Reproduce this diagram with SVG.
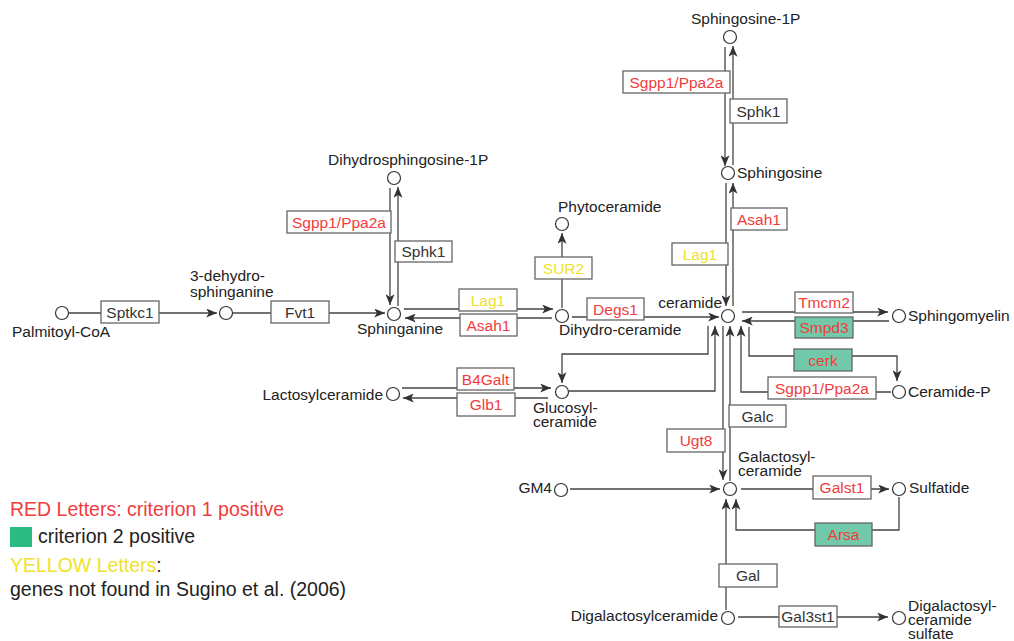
<svg xmlns="http://www.w3.org/2000/svg" width="1014" height="641" viewBox="0 0 1014 641">
<defs>
<marker id="ah" viewBox="0 0 12 10" refX="12" refY="5" markerWidth="11" markerHeight="9" markerUnits="userSpaceOnUse" orient="auto">
<path d="M0,0 L12,5 L0,10 L3,5 z" fill="#333"/>
</marker>
<style>
text{font-family:"Liberation Sans",Arial,sans-serif;font-size:15.5px;fill:#222}
.c{fill:#fff;stroke:#333;stroke-width:1.2}
.ln{fill:none;stroke:#444;stroke-width:1.3}
.ar{marker-end:url(#ah)}
.b{fill:#fff;stroke:#666;stroke-width:1.3}
.g{fill:#72c9aa;stroke:#666;stroke-width:1.3}
.et{text-anchor:middle;fill:#333}
.red{fill:#f03c3c}
.yel{fill:#eee22c}
.lg{font-size:19.5px}
</style>
</defs>
<rect width="1014" height="641" fill="#fff"/>

<g id="connectors">
<line class="ln ar" x1="69" y1="313" x2="217" y2="313"/>
<line class="ln ar" x1="233" y1="313" x2="385" y2="313"/>
<line class="ln ar" x1="398" y1="306" x2="398" y2="187"/>
<line class="ln ar" x1="390" y1="188" x2="390" y2="305"/>
<line class="ln ar" x1="404" y1="309" x2="553" y2="309"/>
<line class="ln ar" x1="552" y1="318" x2="405" y2="318"/>
<line class="ln ar" x1="562" y1="308" x2="562" y2="233"/>
<line class="ln ar" x1="572" y1="317" x2="719" y2="317"/>
<line class="ln ar" x1="725" y1="47" x2="725" y2="166"/>
<line class="ln ar" x1="733" y1="165" x2="733" y2="46"/>
<line class="ln ar" x1="726" y1="183" x2="726" y2="306"/>
<line class="ln ar" x1="733" y1="306" x2="733" y2="183"/>
<line class="ln ar" x1="742" y1="312" x2="888" y2="312"/>
<line class="ln ar" x1="889" y1="321" x2="742" y2="321"/>
<path class="ln ar" d="M749,327 V356 H897 V381"/>
<path class="ln ar" d="M891,392 H741 V326"/>
<path class="ln ar" d="M708,326 V354 H562 V383"/>
<path class="ln ar" d="M569,391 H715 V326"/>
<line class="ln ar" x1="723" y1="326" x2="723" y2="480"/>
<line class="ln ar" x1="730" y1="481" x2="730" y2="326"/>
<line class="ln ar" x1="402" y1="388" x2="551" y2="388"/>
<line class="ln ar" x1="548" y1="398" x2="403" y2="398"/>
<line class="ln ar" x1="570" y1="489" x2="720" y2="489"/>
<line class="ln ar" x1="741" y1="489" x2="889" y2="489"/>
<path class="ln ar" d="M899,497 V530 H736 V499"/>
<line class="ln ar" x1="726" y1="610" x2="726" y2="499"/>
<line class="ln ar" x1="738" y1="617" x2="888" y2="617"/>
</g>

<g id="n-palmitoyl"><circle class="c" cx="62" cy="313" r="6.5"/><text x="12" y="337">Palmitoyl-CoA</text></g>
<g id="n-dehydro"><circle class="c" cx="226" cy="313" r="6.5"/><text x="190" y="281">3-dehydro-</text><text x="190" y="297">sphinganine</text></g>
<g id="n-sphinganine"><circle class="c" cx="394" cy="314" r="6.5"/><text x="357" y="334">Sphinganine</text></g>
<g id="n-dhs1p"><circle class="c" cx="394" cy="178" r="6.5"/><text x="328" y="165">Dihydrosphingosine-1P</text></g>
<g id="n-phyto"><circle class="c" cx="562" cy="224" r="6.5"/><text x="558" y="212">Phytoceramide</text></g>
<g id="n-dhcer"><circle class="c" cx="562" cy="316" r="6.5"/><text x="559" y="335">Dihydro-ceramide</text></g>
<g id="n-ceramide"><circle class="c" cx="728" cy="316" r="6.5"/><text x="722" y="308" text-anchor="end">ceramide</text></g>
<g id="n-sphingosine"><circle class="c" cx="728" cy="173" r="6.5"/><text x="737" y="178">Sphingosine</text></g>
<g id="n-s1p"><circle class="c" cx="730" cy="37" r="6.5"/><text x="691" y="24">Sphingosine-1P</text></g>
<g id="n-sm"><circle class="c" cx="899" cy="316" r="6.5"/><text x="908" y="321">Sphingomyelin</text></g>
<g id="n-cerp"><circle class="c" cx="899" cy="392" r="6.5"/><text x="908" y="397">Ceramide-P</text></g>
<g id="n-lactosyl"><circle class="c" cx="393" cy="394" r="6.5"/><text x="383" y="400" text-anchor="end">Lactosylceramide</text></g>
<g id="n-glucosyl"><circle class="c" cx="562" cy="392" r="6.5"/><text x="533" y="413">Glucosyl-</text><text x="533" y="427">ceramide</text></g>
<g id="n-galactosyl"><circle class="c" cx="730" cy="489" r="6.5"/><text x="738" y="462">Galactosyl-</text><text x="738" y="476">ceramide</text></g>
<g id="n-gm4"><circle class="c" cx="561" cy="490" r="6.5"/><text x="552" y="493" text-anchor="end">GM4</text></g>
<g id="n-sulfatide"><circle class="c" cx="899" cy="489" r="6.5"/><text x="909" y="493">Sulfatide</text></g>
<g id="n-digal"><circle class="c" cx="728" cy="618" r="6.5"/><text x="718" y="621" text-anchor="end">Digalactosylceramide</text></g>
<g id="n-digals"><circle class="c" cx="899" cy="618" r="6.5"/><text x="908" y="611">Digalactosyl-</text><text x="908" y="625">ceramide</text><text x="908" y="639">sulfate</text></g>

<g id="e-sptkc1"><rect class="b" x="101" y="301" width="58" height="22"/><text class="et" x="130" y="317.5">Sptkc1</text></g>
<g id="e-fvt1"><rect class="b" x="271" y="301" width="58" height="22"/><text class="et" x="300" y="317.5">Fvt1</text></g>
<g id="e-sgpp1a"><rect class="b" x="287" y="211" width="104" height="22"/><text class="et red" x="339" y="227.5">Sgpp1/Ppa2a</text></g>
<g id="e-sphk1a"><rect class="b" x="395" y="241" width="57" height="21"/><text class="et" x="423.5" y="257">Sphk1</text></g>
<g id="e-lag1a"><rect class="b" x="459" y="289" width="58" height="22"/><text class="et yel" x="488" y="305.5">Lag1</text></g>
<g id="e-asah1a"><rect class="b" x="460" y="314" width="57" height="22"/><text class="et red" x="488.5" y="330.5">Asah1</text></g>
<g id="e-sur2"><rect class="b" x="535" y="257" width="57" height="22"/><text class="et yel" x="563.5" y="273.5">SUR2</text></g>
<g id="e-degs1"><rect class="b" x="587" y="298" width="57" height="22"/><text class="et red" x="615.5" y="314.5">Degs1</text></g>
<g id="e-sgpp1b"><rect class="b" x="623" y="71" width="107" height="22"/><text class="et red" x="676.5" y="87.5">Sgpp1/Ppa2a</text></g>
<g id="e-sphk1b"><rect class="b" x="730" y="99" width="57" height="24"/><text class="et" x="758.5" y="116.5">Sphk1</text></g>
<g id="e-lag1b"><rect class="b" x="672" y="243" width="56" height="22"/><text class="et yel" x="700" y="259.5">Lag1</text></g>
<g id="e-asah1b"><rect class="b" x="731" y="208" width="56" height="22"/><text class="et red" x="759" y="224.5">Asah1</text></g>
<g id="e-tmcm2"><rect class="b" x="795" y="292" width="58" height="21"/><text class="et red" x="824" y="308">Tmcm2</text></g>
<g id="e-smpd3"><rect class="g" x="795" y="317" width="58" height="21"/><text class="et red" x="824" y="333">Smpd3</text></g>
<g id="e-cerk"><rect class="g" x="794" y="349" width="58" height="22"/><text class="et red" x="823" y="365.5">cerk</text></g>
<g id="e-sgpp1c"><rect class="b" x="768" y="377" width="108" height="22"/><text class="et red" x="822" y="393.5">Sgpp1/Ppa2a</text></g>
<g id="e-galc"><rect class="b" x="729" y="405" width="57" height="22"/><text class="et" x="757.5" y="421.5">Galc</text></g>
<g id="e-ugt8"><rect class="b" x="667" y="429" width="58" height="23"/><text class="et red" x="696" y="446">Ugt8</text></g>
<g id="e-b4galt"><rect class="b" x="457" y="368" width="57" height="22"/><text class="et red" x="485.5" y="384.5">B4Galt</text></g>
<g id="e-glb1"><rect class="b" x="457" y="393" width="58" height="23"/><text class="et red" x="486" y="410">Glb1</text></g>
<g id="e-galst1"><rect class="b" x="813" y="476" width="58" height="23"/><text class="et red" x="842" y="493">Galst1</text></g>
<g id="e-arsa"><rect class="g" x="815" y="523" width="57" height="23"/><text class="et red" x="843.5" y="540">Arsa</text></g>
<g id="e-gal"><rect class="b" x="719" y="564" width="58" height="23"/><text class="et" x="748" y="581">Gal</text></g>
<g id="e-gal3st1"><rect class="b" x="779" y="606" width="58" height="21"/><text class="et" x="808" y="622">Gal3st1</text></g>

<g id="legend">
<text class="lg red" x="10" y="516">RED Letters: criterion 1 positive</text>
<rect x="10" y="527" width="22" height="20" fill="#2dbb85"/>
<text class="lg" x="38" y="543">criterion 2 positive</text>
<text class="lg" x="10" y="572"><tspan class="yel">YELLOW Letters</tspan>:</text>
<text class="lg" x="10" y="596">genes not found in Sugino et al. (2006)</text>
</g>
</svg>
